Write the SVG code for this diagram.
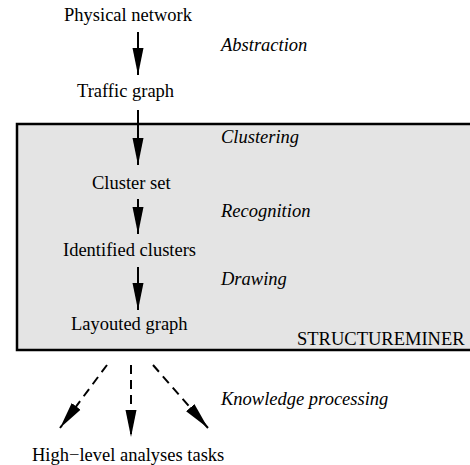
<svg xmlns="http://www.w3.org/2000/svg" width="470" height="465" viewBox="0 0 470 465">
<style>
text{font-family:'Liberation Serif','DejaVu Serif',serif;font-size:18.5px;fill:#000}
.it{font-style:italic}
.c{stroke:#000;stroke-width:2;fill:none}
.d{stroke-dasharray:9,6}
</style>
<defs>
<marker id="ah" markerUnits="userSpaceOnUse" markerWidth="28" markerHeight="12" refX="27" refY="6" orient="auto" viewBox="0 0 28 12">
<path d="M0,0.5 L27,6 L0,11.5 z" fill="#000"/>
</marker>
</defs>
<g id="structureminer">
<rect x="17" y="124" width="470" height="226" fill="#e4e4e4" stroke="#000" stroke-width="2.5"/>
<text x="297" y="345" font-family="Liberation Serif">STRUCTUREMINER</text>
</g>
<g id="connectors">
<line class="c" x1="138" y1="32" x2="138" y2="75" marker-end="url(#ah)"/>
<line class="c" x1="138" y1="110" x2="138" y2="165" marker-end="url(#ah)"/>
<line class="c" x1="138" y1="199" x2="138" y2="234" marker-end="url(#ah)"/>
<line class="c" x1="138" y1="267" x2="138" y2="310" marker-end="url(#ah)"/>
<line class="c d" x1="107" y1="365" x2="60" y2="428" marker-end="url(#ah)"/>
<line class="c d" x1="131" y1="365" x2="131" y2="437" marker-end="url(#ah)"/>
<line class="c d" x1="153" y1="365" x2="208" y2="428" marker-end="url(#ah)"/>
</g>
<g id="physical-network"><text x="64" y="21">Physical network</text></g>
<g id="abstraction"><text class="it" x="221" y="51">Abstraction</text></g>
<g id="traffic-graph"><text x="77" y="97">Traffic graph</text></g>
<g id="clustering"><text class="it" x="221" y="143">Clustering</text></g>
<g id="cluster-set"><text x="92" y="189">Cluster set</text></g>
<g id="recognition"><text class="it" x="221" y="217">Recognition</text></g>
<g id="identified-clusters"><text x="63" y="256">Identified clusters</text></g>
<g id="drawing"><text class="it" x="221" y="285">Drawing</text></g>
<g id="layouted-graph"><text x="71" y="330">Layouted graph</text></g>
<g id="knowledge-processing"><text class="it" x="221" y="405">Knowledge processing</text></g>
<g id="high-level-tasks"><text x="32" y="461">High−level analyses tasks</text></g>
</svg>
